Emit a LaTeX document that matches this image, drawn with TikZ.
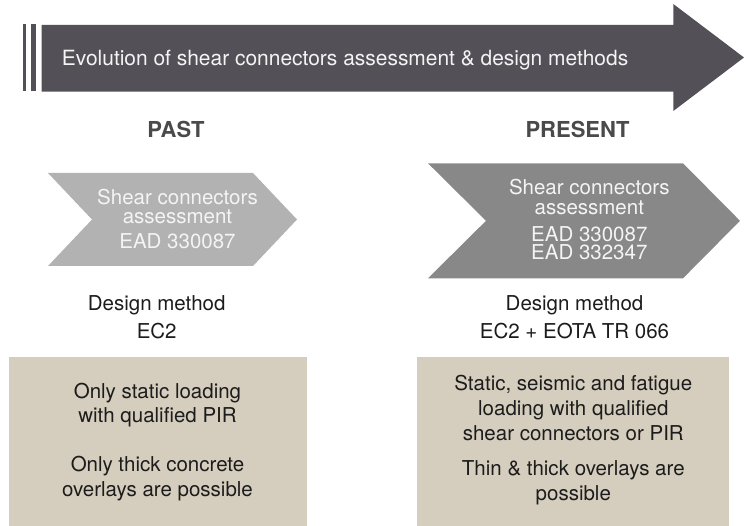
\documentclass[tikz,border=0pt]{standalone}
\usepackage{fontspec}
\setmainfont{TeX Gyre Heros}
\definecolor{arrowdark}{HTML}{535157}
\definecolor{pastgrey}{HTML}{B2B2B2}
\definecolor{presgrey}{HTML}{888888}
\definecolor{beige}{HTML}{D5CEBE}
\definecolor{txtdark}{HTML}{1C1C1C}
\definecolor{lbl}{HTML}{4A4A4A}
\definecolor{wtxt}{HTML}{F4F4F4}
\tikzset{
  txt/.style={anchor=base, inner sep=0pt, text=txtdark, font=\fontsize{20.5}{24}\selectfont},
  wt/.style={txt, text=wtxt},
  hd/.style={anchor=base, inner sep=0pt, text=lbl, font=\fontsize{22}{26}\selectfont\bfseries},
}
\begin{document}
\begin{tikzpicture}[x=1pt,y=-1pt]
\useasboundingbox (0,0) rectangle (744,526);
% top arrow
\fill[arrowdark] (23,24) rectangle (26,90.7);
\fill[arrowdark] (31,24) rectangle (35.7,90.7);
\fill[arrowdark] (41.7,25) -- (673.3,25) -- (673.3,4) -- (744,57.5) -- (673.3,111) -- (673.3,91.7) -- (41.7,91.7) -- cycle;
\node[txt, anchor=base west, text=wtxt, font=\fontsize{20.95}{24}\selectfont] (title) at (61.7,65.7) {Evolution of shear connectors assessment \& design methods};
% headings
\node[hd] (past) at (176,138) {PAST};
\node[hd] (present) at (577.5,138) {PRESENT};
% chevrons
\fill[pastgrey] (48,173) -- (253,173) -- (297,219.5) -- (253,266) -- (48,266) -- (92,219.5) -- cycle;
\fill[presgrey] (428,163.3) -- (683,163.3) -- (740,220.8) -- (683,278.3) -- (428,278.3) -- (486,220.8) -- cycle;
\node[wt] (pa1) at (177.5,205) {Shear connectors};
\node[wt] (pa2) at (177.5,224) {assessment};
\node[wt] (pa3) at (177.5,249) {EAD 330087};
\node[wt] (pr1) at (589.3,195) {Shear connectors};
\node[wt] (pr2) at (589.3,215) {assessment};
\node[wt] (pr3) at (589.3,241.5) {EAD 330087};
\node[wt] (pr4) at (589.3,260) {EAD 332347};
% design methods
\node[txt] (pd1) at (156.7,311) {Design method};
\node[txt] (pd2) at (156.7,339) {EC2};
\node[txt] (rd1) at (574.5,311) {Design method};
\node[txt] (rd2) at (574.5,339) {EC2 + EOTA TR 066};
% boxes
\fill[beige] (9,357) rectangle (306.7,526);
\fill[beige] (417,357) rectangle (728.7,526);
\node[txt] (pb1) at (157.5,398.3) {Only static loading};
\node[txt] (pb2) at (157.5,422.7) {with qualified PIR};
\node[txt] (pb3) at (157.5,471.7) {Only thick concrete};
\node[txt] (pb4) at (157.5,496.7) {overlays are possible};
\node[txt] (rb1) at (573.3,390) {Static, seismic and fatigue};
\node[txt] (rb2) at (573.3,415) {loading with qualified};
\node[txt] (rb3) at (573.3,440) {shear connectors or PIR};
\node[txt] (rb4) at (573.3,475) {Thin \& thick overlays are};
\node[txt] (rb5) at (573.3,500) {possible};
\end{tikzpicture}
\end{document}
